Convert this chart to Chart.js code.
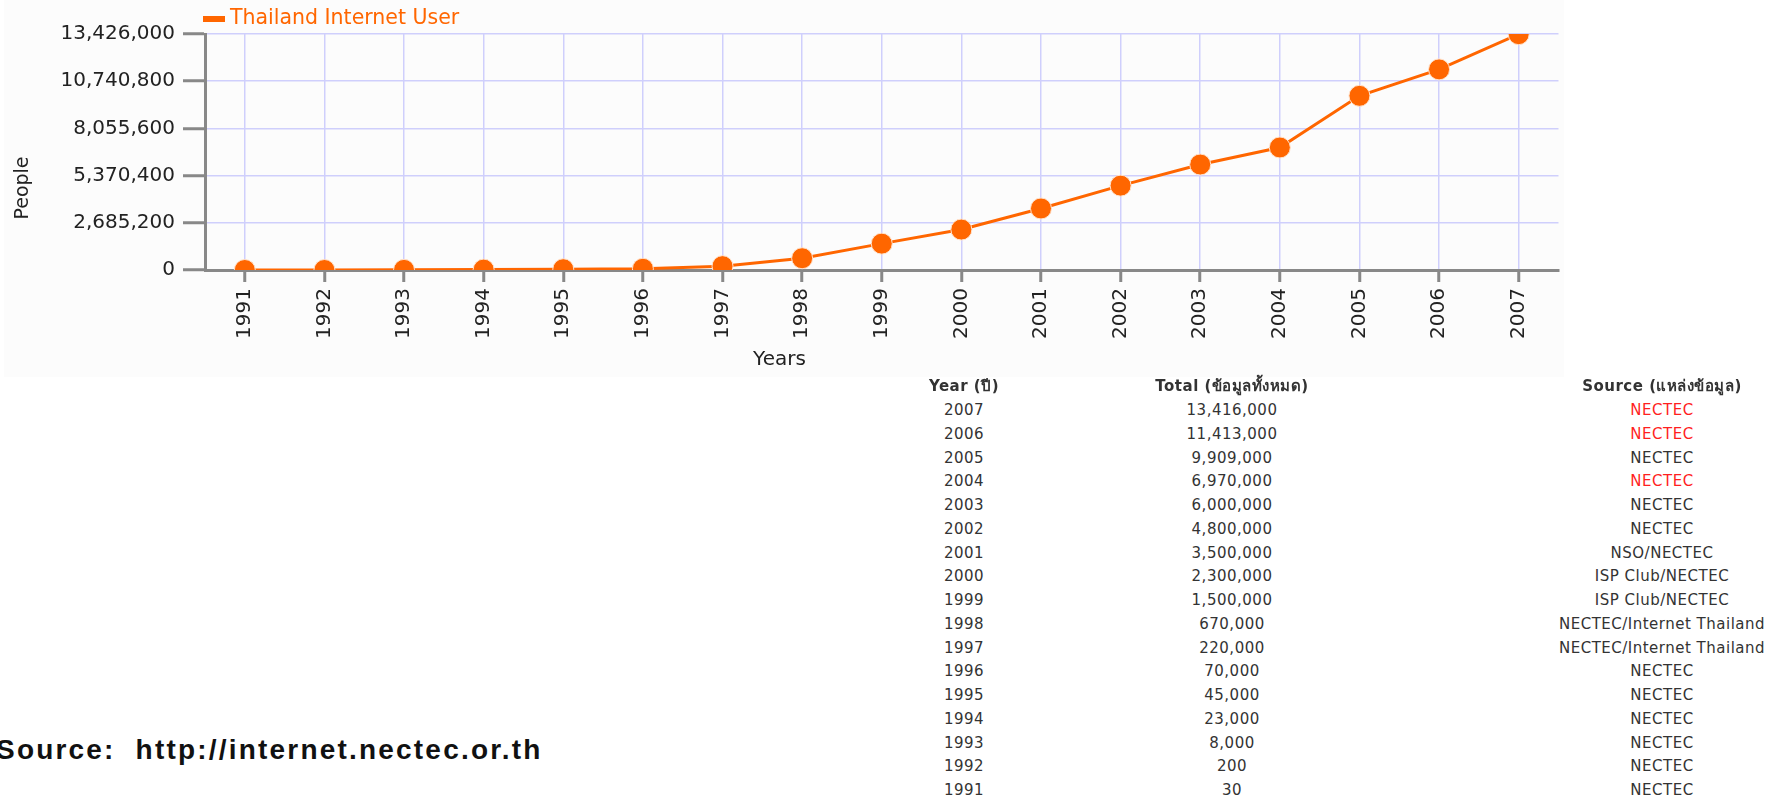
<!DOCTYPE html>
<html>
<head>
<meta charset="utf-8">
<script src="https://cdn.jsdelivr.net/npm/chart.js@4.4.0/dist/chart.umd.min.js"></script>
<style>
  body { margin: 0; background: #fff; width: 1776px; height: 797px; overflow: hidden; position: relative; font-family: "DejaVu Sans", Verdana, sans-serif; }
  #panel { position: absolute; left: 4px; top: 0; width: 1560px; height: 377px; background: #fcfcfc; }
  #chartBox { position: absolute; left: 0; top: 0; }
  .cell { position: absolute; transform: translateX(-50%); white-space: nowrap; font-size: 15px; letter-spacing: 0.5px; color: #333; line-height: 20px; }
  .head { font-weight: bold; }
  .red { color: #ff1f1f; }
  #source { position: absolute; left: -4px; top: 734px; font-family: "Liberation Sans", Arial, sans-serif; font-weight: bold; font-size: 28px; letter-spacing: 2.2px; color: #111; white-space: pre; }
</style>
</head>
<body>
<div id="panel"></div>
<canvas id="chartBox" width="1570" height="378"></canvas>
<div id="table"></div>
<div id="source">Source:  http://internet.nectec.or.th</div>

<script>
const years = ["1991", "1992", "1993", "1994", "1995", "1996", "1997", "1998", "1999",
  "2000", "2001", "2002", "2003", "2004", "2005", "2006", "2007"];
const users = [30, 200, 8000, 23000, 45000, 70000, 220000, 670000, 1500000,
  2300000, 3500000, 4800000, 6000000, 6970000, 9909000, 11413000, 13416000];
const sources = ["NECTEC", "NECTEC", "NECTEC", "NECTEC", "NECTEC", "NECTEC",
  "NECTEC/Internet Thailand", "NECTEC/Internet Thailand", "ISP Club/NECTEC", "ISP Club/NECTEC",
  "NSO/NECTEC", "NECTEC", "NECTEC", "NECTEC", "NECTEC", "NECTEC", "NECTEC"];
const redYears = ["2004", "2006", "2007"];
const yTicks = [0, 2685200, 5370400, 8055600, 10740800, 13426000];
const headers = ["Year (ปี)", "Total (ข้อมูลทั้งหมด)", "Source (แหล่งข้อมูล)"];
const seriesName = "Thailand Internet User";

const orange = "#ff6600";
const axisGray = "#888888";
const gridColor = "#cfcffc";
const fontFamily = '"DejaVu Sans", Verdana, sans-serif';

// Légende et titre de l'axe Y dessinés à la main
const customLegend = {
  id: "customLegend",
  afterDraw(chart) {
    const ctx = chart.ctx;
    const ds = chart.data.datasets[0];
    ctx.save();
    ctx.fillStyle = ds.borderColor;
    ctx.fillRect(203, 16, 22, 6);
    ctx.font = "20.5px " + fontFamily;
    ctx.textBaseline = "middle";
    ctx.fillText(ds.label, 230, 19);
    ctx.translate(23, 188);
    ctx.rotate(-Math.PI / 2);
    ctx.textAlign = "center";
    ctx.fillStyle = "#222";
    ctx.font = "19px " + fontFamily;
    ctx.fillText("People", 0, 0);
    ctx.restore();
  },
};

const ctx = document.getElementById("chartBox").getContext("2d");
new Chart(ctx, {
  type: "line",
  data: {
    labels: years,
    datasets: [
      {
        label: seriesName,
        data: users,
        borderColor: orange,
        borderWidth: 3,
        pointRadius: 10.5,
        pointBackgroundColor: orange,
        pointBorderColor: "#ffe2cc",
        pointBorderWidth: 1,
        tension: 0,
      },
    ],
  },
  options: {
    responsive: false,
    animation: false,
    events: [],
    layout: { padding: { left: 0, top: 34, right: 11, bottom: 0 } },
    plugins: {
      legend: { display: false },
      tooltip: { enabled: false },
      title: {
        display: true,
        position: "bottom",
        text: "Years",
        color: "#222",
        font: { family: fontFamily, size: 20, weight: "normal" },
        padding: { top: 2, bottom: 6 },
      },
    },
    scales: {
      x: {
        offset: true,
        afterFit: (scale) => { scale.height = 76; },
        grid: { color: gridColor, lineWidth: 1.5, tickColor: axisGray, tickWidth: 3, tickLength: 12 },
        border: { color: axisGray, width: 3 },
        ticks: {
          color: "#222",
          font: { family: fontFamily, size: 20 },
          minRotation: 90,
          maxRotation: 90,
          padding: 6,
          autoSkip: false,
        },
      },
      y: {
        min: 0,
        max: yTicks[yTicks.length - 1],
        afterFit: (scale) => { scale.width = 205; },
        afterBuildTicks: (scale) => { scale.ticks = yTicks.map((v) => ({ value: v })); },
        grid: { color: gridColor, lineWidth: 1.5, tickColor: axisGray, tickWidth: 3, tickLength: 22 },
        border: { color: axisGray, width: 3 },
        ticks: {
          color: "#222",
          font: { family: fontFamily, size: 20 },
          padding: 8,
          callback: (v) => Number(v).toLocaleString("en-US"),
        },
      },
    },
  },
  plugins: [customLegend],
});

// Tableau des sources
const table = document.getElementById("table");
const colX = [964, 1232, 1662];
function addCell(text, x, cy, cls) {
  const d = document.createElement("div");
  d.className = "cell " + (cls || "");
  d.textContent = text;
  d.style.left = x + "px";
  d.style.top = (cy - 10) + "px";
  table.appendChild(d);
}
headers.forEach((h, i) => addCell(h, colX[i], 386, "head"));
for (let i = years.length - 1, row = 0; i >= 0; i--, row++) {
  const cy = 410 + row * 23.75;
  addCell(years[i], colX[0], cy);
  addCell(users[i].toLocaleString("en-US"), colX[1], cy);
  addCell(sources[i], colX[2], cy, redYears.includes(years[i]) ? "red" : "");
}
</script>
</body>
</html>
